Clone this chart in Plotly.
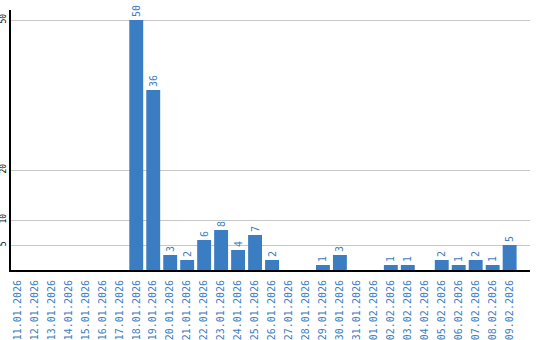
import plotly.graph_objects as go

dates = ["11.01.2026","12.01.2026","13.01.2026","14.01.2026","15.01.2026","16.01.2026",
         "17.01.2026","18.01.2026","19.01.2026","20.01.2026","21.01.2026","22.01.2026",
         "23.01.2026","24.01.2026","25.01.2026","26.01.2026","27.01.2026","28.01.2026",
         "29.01.2026","30.01.2026","31.01.2026","01.02.2026","02.02.2026","03.02.2026",
         "04.02.2026","05.02.2026","06.02.2026","07.02.2026","08.02.2026","09.02.2026"]
values = [0,0,0,0,0,0,0,50,36,3,2,6,8,4,7,2,0,0,1,3,0,0,1,1,0,2,1,2,1,5]
y_ticks = [5, 10, 20, 50]

blue = "#3b7dc3"
labels = [str(v) if v else "" for v in values]

fig = go.Figure(go.Bar(
    x=list(range(len(dates))), y=values, text=labels,
    textposition="outside", textangle=-90, cliponaxis=False,
    textfont=dict(family="DejaVu Sans Mono", size=10, color=blue),
    marker=dict(color=blue, line=dict(width=0)), width=0.82,
))
fig.update_layout(
    width=540, height=340, margin=dict(l=11, r=10, t=10, b=70),
    plot_bgcolor="white", paper_bgcolor="white", showlegend=False,
    font=dict(family="DejaVu Sans Mono"),
)
fig.update_xaxes(
    range=[-0.38, 30.2], tickmode="array", tickvals=list(range(len(dates))),
    ticktext=dates, tickangle=-90, tickfont=dict(size=10, color=blue),
    showline=True, linecolor="black", linewidth=2, showgrid=False, ticks="",
    automargin=False, ticklabelstandoff=4,
)
fig.update_yaxes(
    range=[0, 52], tickmode="array", tickvals=y_ticks, tickangle=-90,
    tickfont=dict(size=8, color="black"), showline=True, linecolor="black",
    linewidth=2, showgrid=True, gridcolor="#c8c8c8", gridwidth=1, zeroline=False,
    ticks="", ticklabelstandoff=0, automargin=False,
)
fig.write_html("out.html")
